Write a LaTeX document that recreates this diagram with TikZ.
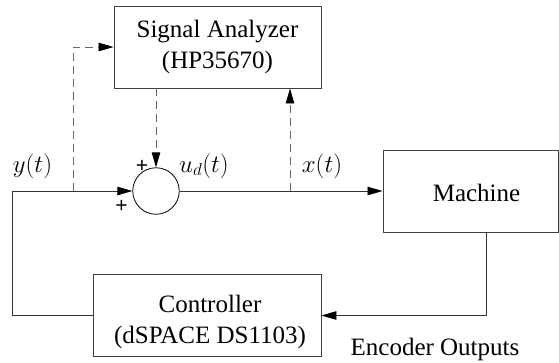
\documentclass[tikz,border=0pt]{standalone}
\usepackage{fontspec}
\setmainfont{Liberation Serif}
\newfontfamily\plusfont{Liberation Sans}
\usetikzlibrary{arrows.meta}
\tikzset{
  box/.style={draw=black!75, line width=0.9pt, rectangle, inner sep=0pt},
  txt/.style={font=\fontsize{25}{31}\selectfont, align=center, inner sep=0pt},
  lbl/.style={font=\fontsize{25}{31}\selectfont, inner sep=0pt},
  plus/.style={font=\plusfont\fontsize{21}{21}\selectfont, inner sep=0pt},
  wire/.style={draw=black!80, line width=0.8pt},
  arr/.style={wire, -{Triangle[length=15pt,width=8.5pt,color=black]}},
  dsh/.style={draw=black!60, line width=0.8pt, dash pattern=on 8pt off 5pt},
  dsharr/.style={dsh, -{Triangle[length=15pt,width=8.5pt,color=black]}},
}
\begin{document}
\begin{tikzpicture}[x=1pt,y=-1pt]
\useasboundingbox (0,0) rectangle (559,362);
% blocks
\node[box, minimum width=207pt, minimum height=82pt, txt] (sa) at (217.5,47)
  {Signal Analyzer\\(HP35670)};
\node[box, minimum width=175pt, minimum height=82pt] (mach) at (470.5,191) {};
\node[txt] (macht) at (476.5,192.5) {Machine};
\node[box, minimum width=228pt, minimum height=82pt] (ctrl) at (207,315.5) {};
\node[txt] (ctrlt) at (210,322) {Controller\\(dSPACE DS1103)};
\node[draw=black, line width=0.8pt, circle, minimum size=46.5pt, inner sep=0pt] (sum) at (156,191) {};
% labels
\node[lbl] (ylab) at (32.5,166) {$y(t)$};
\node[lbl] (ulab) at (204,166) {$u_d(t)$};
\node[lbl] (xlab) at (322,166) {$x(t)$};
\node[plus] (p1) at (142,166) {+};
\node[plus] (p2) at (121.5,206.5) {+};
\node[lbl, anchor=base] (enc) at (435,355) {Encoder Outputs};
% coordinates
\coordinate (lt) at (12,191);
\coordinate (lb) at (12,315.5);
\coordinate (yt) at (73,191);
\coordinate (xt) at (290,191);
\coordinate (mb) at (486,232);
% solid connectors
\draw[arr] (ctrl.west) -- (lb) -- (lt) -- (sum.west);
\draw[arr] (sum.east) -- (mach.west);
\draw[arr] (mb) |- (ctrl.east);
% dashed connectors
\draw[dsharr] (yt) |- (sa.west);
\draw[dsharr] (sum.north |- sa.south) -- (sum.north);
\draw[dsharr] (xt) -- (xt |- sa.south);
\end{tikzpicture}
\end{document}
